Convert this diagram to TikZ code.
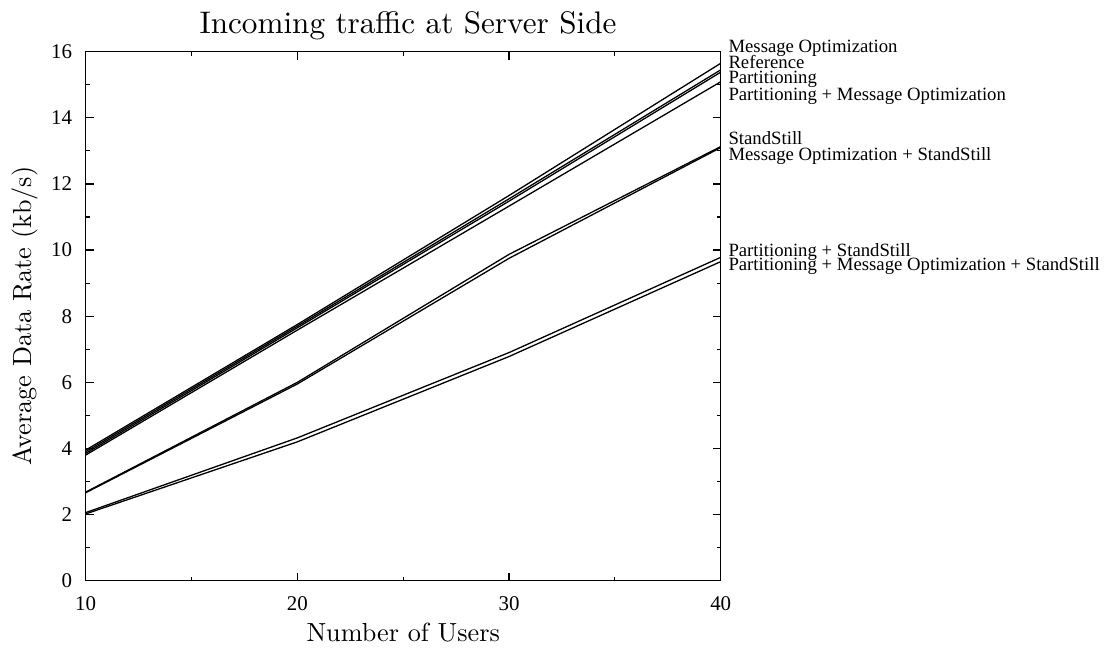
\documentclass[tikz,border=0pt]{standalone}
\usepackage{fontspec}
\newfontfamily\tms{Liberation Serif}
\newfontfamily\lmten{lmroman10-regular.otf}
\begin{document}
\begin{tikzpicture}[x=1bp,y=-1bp,
  curve/.style={line width=1.3bp, line join=round},
  frame/.style={line width=1.4bp},
  tk/.style={line width=1.2bp},
  ticklab/.style={inner sep=0pt, font=\tms\fontsize{21}{21}\selectfont},
  keylab/.style={anchor=base west, inner sep=0pt, font=\tms\fontsize{18.8}{18.8}\selectfont},
  biglab/.style={inner sep=0pt, font=\lmten\fontsize{26.3}{26.3}\selectfont},
  titlelab/.style={inner sep=0pt, font=\lmten\fontsize{31.3}{31.3}\selectfont}]
\path[use as bounding box] (0,0) rectangle (1114,650);
% title and axis labels
\node[titlelab, anchor=base] (title) at (408,33.3) {Incoming traffic at Server Side};
\node[biglab, anchor=base] (xlab) at (403.2,641.7) {Number of Users};
\node[biglab, anchor=base, rotate=90] (ylab) at (31.7,316) {Average Data Rate (kb/s)};
% frame
\draw[frame] (85.7,51.7) rectangle (720.7,580.7);
\begin{scope}[shift={(85.7,580.7)}, x=21.1667bp, y=33.0625bp]
  % y ticks
  \foreach \v in {0,2,...,16} {
    \draw[tk] (0,\v) -- ++(8bp,0);
    \draw[tk] (30,\v) -- ++(-8bp,0);
    \node[ticklab, anchor=east] at ([xshift=-13.5bp]0,\v) {\v};
  }
  \foreach \v in {1,3,...,15} {
    \draw[tk] (0,\v) -- ++(4bp,0);
    \draw[tk] (30,\v) -- ++(-4bp,0);
  }
  % x ticks
  \foreach \u in {10,20,30,40} {
    \draw[tk] (\u-10,0) -- ++(0,8bp);
    \draw[tk] (\u-10,16) -- ++(0,-8bp);
    \node[ticklab, anchor=base] at ([yshift=-30bp]\u-10,0) {\u};
  }
  \foreach \u in {15,25,35} {
    \draw[tk] (\u-10,0) -- ++(0,4bp);
    \draw[tk] (\u-10,16) -- ++(0,-4bp);
  }
  % curves
  \draw[curve] (0,3.95) -- (10,7.75) -- (20,11.65) -- (30,15.65) coordinate (eMO);
  \draw[curve] (0,3.90) -- (10,7.70) -- (20,11.55) -- (30,15.45) coordinate (eRef);
  \draw[curve] (0,3.85) -- (10,7.65) -- (20,11.48) -- (30,15.38) coordinate (eP);
  \draw[curve] (0,3.80) -- (10,7.58) -- (20,11.33) -- (30,15.09) coordinate (ePMO);
  \draw[curve] (0,2.68) -- (10,6.00) -- (20,9.87) -- (30,13.13) coordinate (eSS);
  \draw[curve] (0,2.66) -- (10,5.95) -- (20,9.75) -- (30,13.10) coordinate (eMOSS);
  \draw[curve] (0,2.06) -- (10,4.32) -- (20,6.90) -- (30,9.78) coordinate (ePSS);
  \draw[curve] (0,2.02) -- (10,4.20) -- (20,6.78) -- (30,9.65) coordinate (ePMOSS);
\end{scope}
% key labels
\node[keylab] (kMO) at (728.3,52.3) {Message Optimization};
\node[keylab] (kRef) at (728.3,69) {Reference};
\node[keylab] (kP) at (728.3,83.3) {Partitioning};
\node[keylab] (kPMO) at (728.3,101) {Partitioning + Message Optimization};
\node[keylab] (kSS) at (728.3,145) {StandStill};
\node[keylab] (kMOSS) at (728.3,160.7) {Message Optimization + StandStill};
\node[keylab] (kPSS) at (728.3,256) {Partitioning + StandStill};
\node[keylab] (kPMOSS) at (728.3,270.7) {Partitioning + Message Optimization + StandStill};
\end{tikzpicture}
\end{document}
